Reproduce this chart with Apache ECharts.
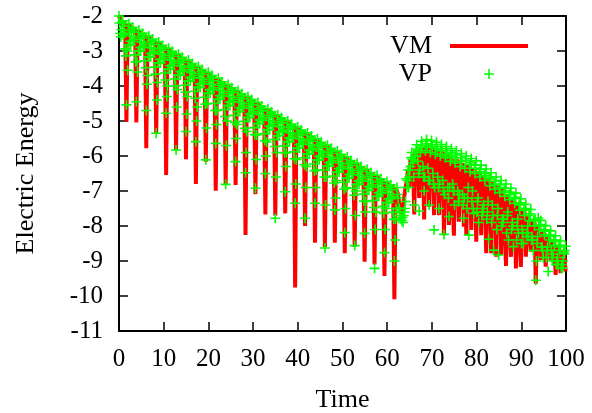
<!DOCTYPE html>
<html>
<head>
<meta charset="utf-8">
<script src="https://cdn.jsdelivr.net/npm/echarts@6/dist/echarts.min.js"></script>
<style>
html,body{margin:0;padding:0;background:#fff;}
#chart{width:592px;height:413px;}
</style>
</head>
<body>
<div id="chart"></div>
<script>
// sampling step of the time series (time units)
const STEP = 0.555;

// axis ticks
const xTicks = [0, 10, 20, 30, 40, 50, 60, 70, 80, 90, 100];
const yTicks = [-11, -10, -9, -8, -7, -6, -5, -4, -3, -2];

// ---- VM ----
// samples at t = k*STEP, before the bump (t < 62)
const vmBefore = [
-2.00,-2.29,-2.24,-5.02, -2.22,-2.47,-2.41,-5.04, -2.40,-2.64,-2.58,-5.78,
-2.57,-2.81,-2.76,-5.35, -2.74,-2.99,-2.93,-6.54, -2.92,-3.16,-3.10,-5.83,
-3.09,-3.33,-3.28,-6.09, -3.26,-3.51,-3.45,-6.80, -3.44,-3.68,-3.62,-6.16,
-3.61,-3.85,-3.80,-6.99, -3.78,-4.03,-3.97,-6.83, -3.96,-4.20,-4.14,-6.83,
-4.13,-4.37,-4.31,-8.26, -4.30,-4.54,-4.49,-7.09, -4.47,-4.72,-4.66,-7.67,
-4.65,-4.89,-4.83,-7.70, -4.82,-5.06,-5.01,-7.64, -4.99,-5.24,-5.18,-9.76,
-5.17,-5.41,-5.35,-8.00, -5.34,-5.58,-5.53,-8.48, -5.51,-5.76,-5.70,-8.60,
-5.69,-5.93,-5.87,-8.48, -5.86,-6.10,-6.05,-8.78, -6.03,-6.28,-6.22,-8.60,
-6.21,-6.45,-6.39,-9.02, -6.38,-6.62,-6.57,-9.10, -6.55,-6.80,-6.74,-9.43,
-6.73,-6.97,-6.91,-10.09
];
// samples at t = k*STEP after t = 62
const vmAfter = [
-6.95,-7.40,-7.70,-7.40,-6.70,-6.90,-6.30,-7.67,-5.90,-7.20,
-5.80,-7.81,-5.75,-7.45,-5.85,-7.69,-5.85,-7.69,-5.90,-8.26,
-6.00,-7.97,-6.10,-8.28,-6.20,-7.88,-6.30,-8.02,-8.26,-6.60,
-8.11,-6.50,-8.45,-6.60,-8.26,-6.80,-8.78,-6.80,-8.78,-7.00,
-8.88,-7.00,-8.83,-7.10,-9.14,-7.20,-8.88,-7.30,-9.21,-7.50,
-9.17,-7.60,-8.88,-7.80,-8.73,-7.90,-9.65,-8.00,-8.97,-8.10,
-9.16,-8.30,-8.97,-8.40,-9.40,-8.60,-9.35,-8.70,-9.30
];
// samples at t = (k+0.5)*STEP
const vmMidBefore = [
-2.10,-2.19,-2.19,-2.22, -2.32,-2.37,-2.36,-2.40, -2.50,-2.54,-2.53,-2.57,
-2.67,-2.71,-2.71,-2.74, -2.84,-2.89,-2.88,-2.92, -3.02,-3.06,-3.05,-3.09,
-3.19,-3.23,-3.23,-3.26, -3.36,-3.41,-3.40,-3.44, -3.54,-3.58,-3.57,-3.61,
-3.71,-3.75,-3.75,-3.78, -3.88,-3.93,-3.92,-3.96, -4.06,-4.10,-4.09,-4.13,
-4.23,-4.27,-4.26,-4.30, -4.40,-4.44,-4.44,-4.47, -4.57,-4.62,-4.61,-4.65,
-4.75,-4.79,-4.78,-4.82, -4.92,-4.96,-4.96,-4.99, -5.09,-5.14,-5.13,-5.17,
-5.27,-5.31,-5.30,-5.34, -5.44,-5.48,-5.48,-5.51, -5.61,-5.66,-5.65,-5.69,
-5.79,-5.83,-5.82,-5.86, -5.96,-6.00,-6.00,-6.03, -6.13,-6.18,-6.17,-6.21,
-6.31,-6.35,-6.34,-6.38, -6.48,-6.52,-6.52,-6.55, -6.65,-6.70,-6.69,-6.73,
-6.83,-6.87,-6.86,-6.90
];
const vmMidAfter = [
-7.10,-7.40,-7.40,-6.90,-6.40,-6.10,-5.95,-5.85,-5.85,-5.80,
-5.80,-5.75,-5.75,-5.80,-5.80,-5.85,-5.85,-5.90,-5.90,-5.95,
-6.00,-6.00,-6.05,-6.10,-6.10,-6.15,-6.20,-6.25,-6.25,-6.30,
-6.35,-6.40,-6.45,-6.50,-6.55,-6.60,-6.65,-6.70,-6.75,-6.80,
-6.85,-6.90,-6.95,-7.05,-7.10,-7.15,-7.25,-7.30,-7.40,-7.45,
-7.55,-7.60,-7.70,-7.75,-7.85,-7.90,-8.00,-8.05,-8.15,-8.20,
-8.30,-8.35,-8.45,-8.50,-8.60,-8.65,-8.75,-8.80
];

// ---- VP ----
// samples at t = k*STEP
const vpBefore = [
-2.00,-2.39,-2.29,-4.54, -2.22,-2.57,-2.46,-4.45, -2.40,-2.74,-2.63,-4.70,
-2.57,-2.91,-2.81,-5.35, -2.74,-3.09,-2.98,-4.78, -2.92,-3.26,-3.15,-5.83,
-3.09,-3.43,-3.33,-5.30, -3.26,-3.61,-3.50,-5.59, -3.44,-3.78,-3.67,-6.11,
-3.61,-3.95,-3.85,-5.64, -3.78,-4.13,-4.02,-6.81, -3.96,-4.30,-4.19,-6.16,
-4.13,-4.47,-4.36,-6.48, -4.30,-4.64,-4.54,-6.92, -4.47,-4.82,-4.71,-6.50,
-4.65,-4.99,-4.88,-7.78, -4.82,-5.16,-5.06,-7.02, -4.99,-5.34,-5.23,-7.35,
-5.17,-5.51,-5.40,-7.78, -5.34,-5.68,-5.58,-7.35, -5.51,-5.86,-5.75,-8.63,
-5.69,-6.03,-5.92,-7.54, -5.86,-6.20,-6.10,-8.19, -6.03,-6.38,-6.27,-8.56,
-6.21,-6.55,-6.44,-8.21, -6.38,-6.72,-6.62,-9.21, -6.55,-6.90,-6.79,-8.76,
-6.73,-7.07,-6.96,-9.00
];
const vpAfter = [
-6.90,-7.50,-7.85,-7.60,-6.90,-6.60,-5.90,-7.40,-5.68,-7.57,
-5.58,-7.00,-5.53,-7.40,-5.56,-8.11,-5.61,-7.50,-5.67,-8.24,
-5.73,-7.73,-5.79,-7.00,-5.85,-7.30,-5.93,-7.78,-6.00,-8.26,
-6.07,-7.64,-6.14,-7.90,-6.26,-7.40,-6.37,-8.38,-6.48,-8.69,
-6.60,-8.83,-6.70,-7.80,-6.80,-8.40,-6.92,-8.59,-7.06,-8.20,
-7.22,-8.50,-7.38,-8.30,-7.53,-8.70,-9.55,-7.77,-7.84,-8.90,
-7.99,-9.30,-8.14,-8.80,-8.28,-9.10,-8.43,-9.00,-8.58
];
// samples at t = (k+0.25)*STEP
const vpQuarterBefore = [
-2.20,-2.19,-2.49,-3.00, -2.42,-2.37,-2.66,-3.30, -2.60,-2.54,-2.83,-3.95,
-2.77,-2.71,-3.01,-4.40, -2.94,-2.89,-3.18,-4.30, -3.12,-3.06,-3.35,-4.60,
-3.29,-3.23,-3.53,-4.80, -3.46,-3.41,-3.70,-5.00, -3.64,-3.58,-3.87,-5.20,
-3.81,-3.75,-4.05,-5.10, -3.98,-3.93,-4.22,-5.70, -4.16,-4.10,-4.39,-5.50,
-4.33,-4.27,-4.56,-5.90, -4.50,-4.44,-4.74,-6.10, -4.67,-4.62,-4.91,-6.00,
-4.85,-4.79,-5.08,-6.60, -5.02,-4.96,-5.26,-6.30, -5.19,-5.14,-5.43,-6.80,
-5.37,-5.31,-5.60,-6.90, -5.54,-5.48,-5.78,-6.90, -5.71,-5.66,-5.95,-7.40,
-5.89,-5.83,-6.12,-7.20, -6.06,-6.00,-6.30,-7.50, -6.23,-6.18,-6.47,-7.70,
-6.41,-6.35,-6.64,-7.60, -6.58,-6.52,-6.82,-8.10, -6.75,-6.70,-6.99,-8.10,
-6.93,-6.87,-7.16,-8.40
];
const vpQuarterAfter = [
-7.10,-7.60,-7.75,-7.50,-6.70,-6.40,-6.10,-6.00,-5.85,-6.40,
-5.75,-6.60,-5.70,-6.70,-5.75,-6.90,-5.80,-6.80,-5.85,-7.10,
-5.95,-6.90,-6.00,-7.40,-6.05,-7.10,-6.15,-7.20,-7.50,-6.25,
-7.30,-6.35,-7.60,-6.45,-7.70,-6.55,-7.80,-6.65,-7.90,-6.80,
-8.10,-6.90,-8.00,-7.00,-8.20,-7.10,-8.10,-7.20,-8.40,-7.40,
-8.50,-7.55,-8.30,-7.70,-8.40,-7.85,-9.00,-8.00,-8.60,-8.15,
-8.90,-8.30,-8.70,-8.45,-9.10,-8.60,-9.20,-8.75
];
// samples at t = (k+0.5)*STEP
const vpMidBefore = [
-2.50,-2.14,-2.94,-3.55, -2.72,-2.32,-3.11,-3.60, -2.90,-2.49,-3.28,-3.70,
-3.07,-2.66,-3.46,-3.90, -3.24,-2.84,-3.63,-4.00, -3.42,-3.01,-3.80,-4.10,
-3.59,-3.18,-3.98,-4.30, -3.76,-3.36,-4.15,-4.60, -3.94,-3.53,-4.32,-4.50,
-4.11,-3.70,-4.50,-4.70, -4.28,-3.88,-4.67,-5.00, -4.46,-4.05,-4.84,-5.10,
-4.63,-4.22,-5.01,-5.30, -4.80,-4.39,-5.19,-5.40, -4.97,-4.57,-5.36,-5.60,
-5.15,-4.74,-5.53,-5.90, -5.32,-4.91,-5.71,-5.90, -5.49,-5.09,-5.88,-6.10,
-5.67,-5.26,-6.05,-6.30, -5.84,-5.43,-6.23,-6.40, -6.01,-5.61,-6.40,-6.60,
-6.19,-5.78,-6.57,-6.70, -6.36,-5.95,-6.75,-6.90, -6.53,-6.13,-6.92,-7.00,
-6.71,-6.30,-7.09,-7.30, -6.88,-6.47,-7.27,-7.60, -7.05,-6.65,-7.44,-7.50,
-7.23,-6.82,-7.61,-7.80
];
const vpMidAfter = [
-7.20,-7.70,-7.90,-7.30,-6.40,-6.30,-6.20,-6.00,-6.15,-5.90,
-6.30,-5.85,-6.35,-5.90,-6.50,-5.95,-6.60,-6.00,-6.70,-6.05,
-6.90,-6.15,-6.80,-6.20,-7.00,-6.30,-7.10,-6.35,-7.20,-6.45,
-7.00,-6.50,-7.30,-6.60,-7.50,-6.70,-7.60,-6.85,-7.40,-6.95,
-7.70,-7.05,-7.80,-7.15,-7.70,-7.25,-7.90,-7.35,-8.00,-7.55,
-8.10,-7.70,-8.20,-7.85,-8.30,-8.00,-8.50,-8.10,-8.60,-8.25,
-8.70,-8.40,-8.90,-8.55,-9.00,-8.70,-9.10,-8.80
];
// samples at t = (k+0.75)*STEP
const vpLateBefore = [
-2.60,-2.54,-3.14,-2.82, -2.82,-2.72,-3.31,-3.00, -3.00,-2.89,-3.48,-3.17,
-3.17,-3.06,-3.66,-3.34, -3.34,-3.24,-3.83,-3.52, -3.52,-3.41,-4.00,-3.69,
-3.69,-3.58,-4.18,-3.86, -3.86,-3.76,-4.35,-4.04, -4.04,-3.93,-4.52,-4.21,
-4.21,-4.10,-4.70,-4.38, -4.38,-4.28,-4.87,-4.56, -4.56,-4.45,-5.04,-4.73,
-4.73,-4.62,-5.21,-4.90, -4.90,-4.79,-5.39,-5.07, -5.07,-4.97,-5.56,-5.25,
-5.25,-5.14,-5.73,-5.42, -5.42,-5.31,-5.91,-5.59, -5.59,-5.49,-6.08,-5.77,
-5.77,-5.66,-6.25,-5.94, -5.94,-5.83,-6.43,-6.11, -6.11,-6.01,-6.60,-6.29,
-6.29,-6.18,-6.77,-6.46, -6.46,-6.35,-6.95,-6.63, -6.63,-6.53,-7.12,-6.81,
-6.81,-6.70,-7.29,-6.98, -6.98,-6.87,-7.47,-7.15, -7.15,-7.05,-7.64,-7.33,
-7.33,-7.22,-7.81,-7.50
];
const vpLateAfter = [
-7.50,-7.80,-7.70,-6.65,-6.90,-6.05,-6.60,-5.80,-6.50,-5.70,
-6.60,-5.65,-6.70,-5.68,-6.80,-5.73,-6.90,-5.79,-7.00,-5.85,
-7.20,-5.91,-7.00,-5.97,-7.30,-6.05,-7.40,-6.12,-6.90,-6.19,
-7.50,-6.26,-7.20,-6.38,-7.60,-6.49,-7.30,-6.60,-7.70,-6.72,
-7.50,-6.82,-7.90,-6.92,-7.60,-7.04,-8.00,-7.18,-7.80,-7.34,
-8.20,-7.50,-8.00,-7.65,-8.40,-7.81,-8.30,-7.96,-8.70,-8.11,
-8.60,-8.26,-9.00,-8.40,-8.90,-8.55,-9.20,-8.70
];

const seriesNames = ['VM', 'VP'];
const vmValues = vmBefore.concat(vmAfter);
const vmMidValues = vmMidBefore.concat(vmMidAfter);

// VM line: interleave the whole-step and half-step samples in time order
const vmData = [];
vmValues.forEach((v, i) => {
  vmData.push([i * STEP, v]);
  if (i < vmMidValues.length) vmData.push([(i + 0.5) * STEP, vmMidValues[i]]);
});
// VP points: four sample phases within each step
const vpPhases = [
  [0, vpBefore.concat(vpAfter)],
  [0.25, vpQuarterBefore.concat(vpQuarterAfter)],
  [0.5, vpMidBefore.concat(vpMidAfter)],
  [0.75, vpLateBefore.concat(vpLateAfter)]
];
const vpData = [];
vpPhases.forEach(([off, vals]) => vals.forEach((v, i) => vpData.push([(i + off) * STEP, v])));

const FONT = 'Liberation Serif';
const PLUS = 'path://M4.2,0H5.8V4.2H10V5.8H5.8V10H4.2V5.8H0V4.2H4.2Z';

const chart = echarts.init(document.getElementById('chart'), null, {renderer: 'canvas'});

function xAxisDef(pos, labels) {
  return {
    type: 'value', position: pos, min: xTicks[0], max: xTicks[xTicks.length - 1], interval: 10,
    axisLine: {show: true, onZero: false, lineStyle: {color: '#000', width: 2}},
    axisTick: {show: true, inside: true, length: 9, lineStyle: {color: '#000', width: 1.5}},
    axisLabel: {show: labels, fontFamily: FONT, fontSize: 25, color: '#000', margin: 16},
    splitLine: {show: false},
    name: labels ? 'Time' : '', nameLocation: 'middle', nameGap: 56,
    nameTextStyle: {fontFamily: FONT, fontSize: 26, color: '#000'}
  };
}
function yAxisDef(pos, labels) {
  return {
    type: 'value', position: pos, min: yTicks[0], max: yTicks[yTicks.length - 1], interval: 1,
    axisLine: {show: true, onZero: false, lineStyle: {color: '#000', width: 2}},
    axisTick: {show: true, inside: true, length: 9, lineStyle: {color: '#000', width: 1.5}},
    axisLabel: {show: labels, fontFamily: FONT, fontSize: 25, color: '#000', margin: 16},
    splitLine: {show: false},
    name: labels ? 'Electric Energy' : '', nameLocation: 'middle', nameGap: 80, nameRotate: 90,
    nameTextStyle: {fontFamily: FONT, fontSize: 26, color: '#000'}
  };
}

chart.setOption({
  animation: false,
  backgroundColor: '#fff',
  grid: {left: 119, right: 26, top: 16, bottom: 82, containLabel: false, outerBoundsMode: 'none'},
  legend: [
    {
      data: [seriesNames[0]], orient: 'vertical', align: 'right', right: 59, top: 28,
      icon: 'rect', itemWidth: 78, itemHeight: 4,
      textStyle: {fontFamily: FONT, fontSize: 26, color: '#000', padding: [0, 13, 0, 0]}
    },
    {
      data: [seriesNames[1]], orient: 'vertical', align: 'right', right: 93, top: 56,
      icon: PLUS, itemWidth: 10, itemHeight: 10,
      textStyle: {fontFamily: FONT, fontSize: 26, color: '#000', padding: [0, 47, 0, 0]}
    }
  ],
  xAxis: [xAxisDef('bottom', true), xAxisDef('top', false)],
  yAxis: [yAxisDef('left', true), yAxisDef('right', false)],
  series: [
    {
      name: seriesNames[0], type: 'line', data: vmData, showSymbol: false, symbol: 'none',
      lineStyle: {color: '#ff0000', width: 4, join: 'bevel', cap: 'butt'},
      itemStyle: {color: '#ff0000'}, z: 2
    },
    {
      name: seriesNames[1], type: 'scatter', data: vpData, symbol: PLUS, symbolSize: 10,
      itemStyle: {color: '#00ff00', opacity: 1}, z: 3, large: false
    }
  ]
});
</script>
</body>
</html>
